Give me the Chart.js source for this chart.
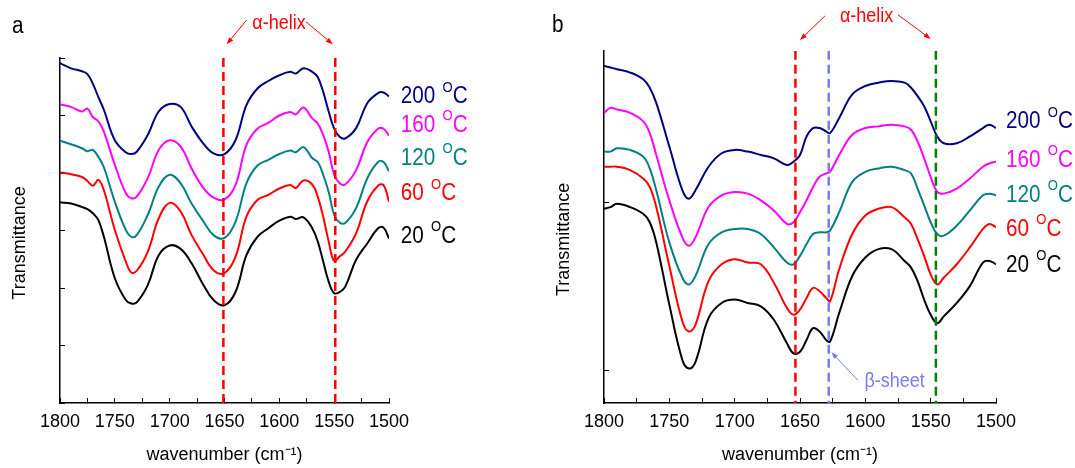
<!DOCTYPE html>
<html>
<head>
  <title>FTIR amide region vs temperature</title>
  <meta charset="UTF-8">
  <script src="https://cdn.jsdelivr.net/npm/chart.js"></script>
  <style>
    body { margin: 0; background: #fff; }
    #wrap { position: relative; width: 1075px; height: 468px; }
    canvas { position: absolute; top: 0; display: block; }
    #chartA { left: 0; }
    #chartB { left: 540px; }
  </style>
</head>
<body>
  <div id="wrap">
    <canvas id="chartA" width="540" height="468"></canvas>
    <canvas id="chartB" width="535" height="468"></canvas>
  </div>

  <script>
    // ---- data (transmittance in arbitrary units) ----
    const tempLabels = ['200', '160', '120', '60', '20'];
    const seriesColors = ['#000080', '#ff00ff', '#008080', '#ff0000', '#000000'];

    // panel a
    const wavenumberA = [1800, 1790, 1780, 1775, 1770, 1765, 1760, 1750, 1740, 1735, 1730, 1720, 1710, 1700, 1690,
      1680, 1670, 1660, 1650, 1640, 1630, 1620, 1610, 1600, 1590, 1585, 1578, 1570, 1565, 1560, 1555, 1550, 1545,
      1540, 1530, 1520, 1510, 1505, 1500];
    const a200 = [5.91, 5.82, 5.77, 5.72, 5.55, 5.32, 5.10, 4.57, 4.36, 4.33, 4.37, 4.66, 5.07, 5.20, 5.15,
      4.81, 4.53, 4.34, 4.33, 4.57, 5.18, 5.47, 5.60, 5.70, 5.76, 5.73, 5.82, 5.76, 5.67, 5.41, 5.07, 4.77, 4.63,
      4.60, 4.78, 5.21, 5.39, 5.40, 5.33];
    const a160 = [5.19, 5.15, 5.07, 5.12, 4.97, 4.90, 4.72, 4.14, 3.65, 3.56, 3.59, 3.91, 4.40, 4.57, 4.46,
      4.08, 3.76, 3.57, 3.54, 3.79, 4.49, 4.77, 4.87, 5.00, 5.06, 5.02, 5.14, 4.95, 4.86, 4.66, 4.37, 3.97, 3.82,
      3.80, 4.05, 4.53, 4.77, 4.77, 4.65];
    const a120 = [4.56, 4.50, 4.43, 4.38, 4.40, 4.28, 4.10, 3.50, 3.01, 2.89, 2.92, 3.27, 3.76, 3.97, 3.82,
      3.47, 3.18, 2.92, 2.87, 3.15, 3.82, 4.13, 4.23, 4.33, 4.39, 4.36, 4.45, 4.26, 4.19, 3.97, 3.67, 3.27, 3.14,
      3.13, 3.39, 3.90, 4.19, 4.19, 4.03];
    const a60 = [4.01, 3.98, 3.93, 3.86, 3.78, 3.88, 3.70, 3.01, 2.46, 2.27, 2.30, 2.63, 3.21, 3.48, 3.33,
      2.92, 2.60, 2.31, 2.26, 2.54, 3.24, 3.53, 3.62, 3.73, 3.79, 3.74, 3.87, 3.80, 3.59, 3.24, 2.81, 2.47, 2.55,
      2.63, 2.95, 3.50, 3.78, 3.79, 3.50];
    const a20 = [3.49, 3.47, 3.41, 3.37, 3.30, 3.18, 2.89, 2.17, 1.79, 1.73, 1.75, 2.05, 2.57, 2.74, 2.68,
      2.43, 2.08, 1.79, 1.70, 1.93, 2.57, 2.89, 3.04, 3.17, 3.24, 3.20, 3.23, 3.04, 2.81, 2.46, 2.11, 1.91, 1.93,
      2.02, 2.49, 2.77, 3.04, 3.05, 2.86];

    // panel b
    const wavenumberB = [1800, 1795, 1790, 1780, 1770, 1765, 1760, 1750, 1740, 1735, 1730, 1720, 1710, 1700,
      1690, 1680, 1670, 1660, 1655, 1650, 1645, 1640, 1635, 1630, 1627, 1620, 1610, 1600, 1590, 1580, 1570, 1565,
      1560, 1555, 1550, 1545, 1540, 1530, 1520, 1510, 1505, 1500];
    const b200 = [1.81, 1.80, 1.79, 1.77, 1.73, 1.68, 1.59, 1.33, 1.07, 1.02, 1.07, 1.21, 1.29, 1.31,
      1.30, 1.28, 1.26, 1.22, 1.24, 1.28, 1.39, 1.44, 1.44, 1.42, 1.41, 1.50, 1.64, 1.69, 1.71, 1.72, 1.71, 1.68,
      1.63, 1.57, 1.48, 1.39, 1.35, 1.35, 1.39, 1.44, 1.46, 1.44];
    const b160 = [1.53, 1.56, 1.55, 1.53, 1.48, 1.41, 1.28, 1.01, 0.79, 0.74, 0.79, 0.97, 1.04, 1.06,
      1.05, 1.01, 0.95, 0.87, 0.88, 0.94, 1.01, 1.09, 1.15, 1.17, 1.18, 1.28, 1.40, 1.44, 1.45, 1.46, 1.45, 1.43,
      1.36, 1.26, 1.15, 1.06, 1.05, 1.08, 1.14, 1.21, 1.23, 1.24];
    const b120 = [1.30, 1.30, 1.32, 1.31, 1.27, 1.20, 1.07, 0.76, 0.55, 0.51, 0.56, 0.75, 0.82, 0.84,
      0.84, 0.81, 0.73, 0.64, 0.63, 0.68, 0.75, 0.81, 0.82, 0.82, 0.83, 0.94, 1.12, 1.18, 1.20, 1.21, 1.19, 1.17,
      1.08, 0.98, 0.88, 0.81, 0.80, 0.86, 0.95, 1.04, 1.05, 1.04];
    const b60 = [1.21, 1.21, 1.21, 1.19, 1.14, 1.09, 0.97, 0.62, 0.29, 0.23, 0.27, 0.53, 0.63, 0.66,
      0.64, 0.63, 0.52, 0.37, 0.33, 0.36, 0.43, 0.49, 0.47, 0.43, 0.41, 0.60, 0.81, 0.92, 0.96, 0.97, 0.91, 0.87,
      0.78, 0.68, 0.57, 0.51, 0.55, 0.63, 0.73, 0.84, 0.87, 0.85];
    const b20 = [0.96, 0.97, 0.99, 0.97, 0.93, 0.88, 0.76, 0.39, 0.06, 0.01, 0.05, 0.31, 0.40, 0.42,
      0.40, 0.38, 0.30, 0.16, 0.10, 0.11, 0.18, 0.25, 0.23, 0.18, 0.17, 0.34, 0.56, 0.67, 0.72, 0.72, 0.65, 0.61,
      0.53, 0.42, 0.33, 0.28, 0.32, 0.40, 0.50, 0.64, 0.65, 0.63];

    // marker lines (wavenumbers)
    const helixA = [1651, 1549];
    const helixB = [1653.5, 1546];
    const sheetB = [1628];

    const FONT = '"Liberation Sans", Arial, Helvetica, sans-serif';
    const SQ = 0.9; // the figure text is a bit narrow

    function putText(ctx, text, x, y, size, color, align) {
      ctx.save();
      ctx.font = size + 'px ' + FONT;
      ctx.fillStyle = color;
      ctx.textBaseline = 'alphabetic';
      const w = ctx.measureText(text).width * SQ;
      ctx.translate(align === 'center' ? x - w / 2 : x, y);
      ctx.scale(SQ, 1);
      ctx.fillText(text, 0, 0);
      ctx.restore();
      return w;
    }

    function arrow(ctx, x1, y1, x2, y2, color) {
      const ang = Math.atan2(y2 - y1, x2 - x1), h = 7, s = 2.6;
      const bx = x2 - h * Math.cos(ang), by = y2 - h * Math.sin(ang);
      ctx.save();
      ctx.strokeStyle = color;
      ctx.fillStyle = color;
      ctx.lineWidth = 1;
      ctx.beginPath();
      ctx.moveTo(x1, y1);
      ctx.lineTo(bx, by);
      ctx.stroke();
      ctx.beginPath();
      ctx.moveTo(x2, y2);
      ctx.lineTo(bx + s * Math.sin(ang), by - s * Math.cos(ang));
      ctx.lineTo(bx - s * Math.sin(ang), by + s * Math.cos(ang));
      ctx.closePath();
      ctx.fill();
      ctx.restore();
    }

    // panel letter, temperature labels, arrows and notes
    const notes = {
      id: 'notes',
      afterDraw(chart, args, o) {
        const {ctx, chartArea, scales: {x, y}} = chart;
        putText(ctx, o.letter, 12, o.letterY, 23, '#000');
        o.tempAt.forEach((v, i) => {
          const col = seriesColors[i];
          const base = y.getPixelForValue(v);
          let cx = chartArea.right + o.tempGap;
          cx += putText(ctx, tempLabels[i] + ' ', cx, base, 23, col);
          cx += 1.5;
          cx += putText(ctx, 'O', cx, base - 11.5, 14.5, col);
          putText(ctx, 'C', cx, base, 23, col);
        });
        o.arrows.forEach(a => arrow(ctx,
          x.getPixelForValue(a[0]), y.getPixelForValue(a[1]),
          x.getPixelForValue(a[2]), y.getPixelForValue(a[3]), a[4]));
        o.texts.forEach(t => putText(ctx, t.text,
          x.getPixelForValue(t.x), y.getPixelForValue(t.y), 20, t.color, t.align));
      }
    };

    function makeChart(id, wn, series, yMin, yMax, markers, pad, yWidth, yTitlePad, noteOpts) {
      const datasets = series.map((vals, i) => ({
        data: wn.map((w, k) => ({x: w, y: vals[k]})),
        borderColor: seriesColors[i],
        borderWidth: 2,
        pointRadius: 0,
        tension: 0.4,
        order: 1
      }));
      markers.forEach(m => datasets.push({
        data: [{x: m.at, y: yMax}, {x: m.at, y: yMin}],
        borderColor: m.color,
        borderWidth: 2.5,
        borderDash: [9, 5],
        pointRadius: 0,
        order: 0
      }));

      return new Chart(document.getElementById(id), {
        type: 'line',
        data: {datasets},
        options: {
          responsive: false,
          animation: false,
          layout: {padding: pad},
          plugins: {legend: {display: false}, tooltip: {enabled: false}, notes: noteOpts},
          scales: {
            x: {
              type: 'linear',
              reverse: true,
              min: 1500,
              max: 1800,
              border: {color: '#000', width: 1.5},
              grid: {drawOnChartArea: false, tickLength: -5, color: '#000', lineWidth: 1},
              ticks: {
                stepSize: 25,
                autoSkip: false,
                maxRotation: 0,
                padding: 13,
                color: '#000',
                font: {family: FONT, size: 18},
                callback: v => (v % 50 === 0 ? String(v) : '')
              },
              title: {
                display: true,
                text: 'wavenumber (cm\u207B\u00B9)',
                color: '#000',
                font: {family: FONT, size: 18},
                padding: {top: 0, bottom: 0}
              },
              afterFit: s => { s.height = 62.8; }
            },
            y: {
              min: yMin,
              max: yMax,
              border: {color: '#000', width: 1.5},
              grid: {drawOnChartArea: false, tickLength: -5, color: '#000', lineWidth: 1},
              ticks: {stepSize: 1, display: false, includeBounds: false},
              title: {
                display: true,
                text: 'Transmittance     ',
                color: '#000',
                font: {family: FONT, size: 18},
                padding: {top: yTitlePad, bottom: 0}
              },
              afterFit: s => { s.width = yWidth; }
            }
          }
        },
        plugins: [notes]
      });
    }

    makeChart('chartA', wavenumberA, [a200, a160, a120, a60, a20], 0, 6,
      helixA.map(w => ({at: w, color: '#ff0000'})),
      {left: 0, top: 58, right: 151, bottom: 2.2}, 60, 9,
      {
        letter: 'a', letterY: 33, tempGap: 11.7,
        tempAt: [5.21, 4.72, 4.14, 3.53, 2.79],
        arrows: [[1629.8, 6.66, 1648, 6.24, '#ff0000'], [1575.7, 6.63, 1551.3, 6.24, '#ff0000']],
        texts: [{text: '\u03B1-helix', x: 1600.3, y: 6.5, color: '#ff0000', align: 'center'}]
      });

    makeChart('chartB', wavenumberB, [b200, b160, b120, b60, b20], -0.195, 1.9,
      [{at: helixB[0], color: '#ff0000'}, {at: sheetB[0], color: '#7b7bef'}, {at: helixB[1], color: '#008000'}],
      {left: 0, top: 50.7, right: 79, bottom: 2.2}, 64, 13,
      {
        letter: 'b', letterY: 32, tempGap: 10,
        tempAt: [1.439, 1.21, 1.002, 0.799, 0.585],
        arrows: [[1630.9, 2.107, 1650, 1.964, '#ff0000'], [1575, 2.113, 1550, 1.97, '#ff0000'],
          [1605.7, -0.06, 1626, 0.107, '#7b7bef']],
        texts: [{text: '\u03B1-helix', x: 1599, y: 2.073, color: '#ff0000', align: 'center'},
          {text: '\u03B2-sheet', x: 1600.7, y: -0.101, color: '#7b7bef', align: 'left'}]
      });
  </script>
</body>
</html>
